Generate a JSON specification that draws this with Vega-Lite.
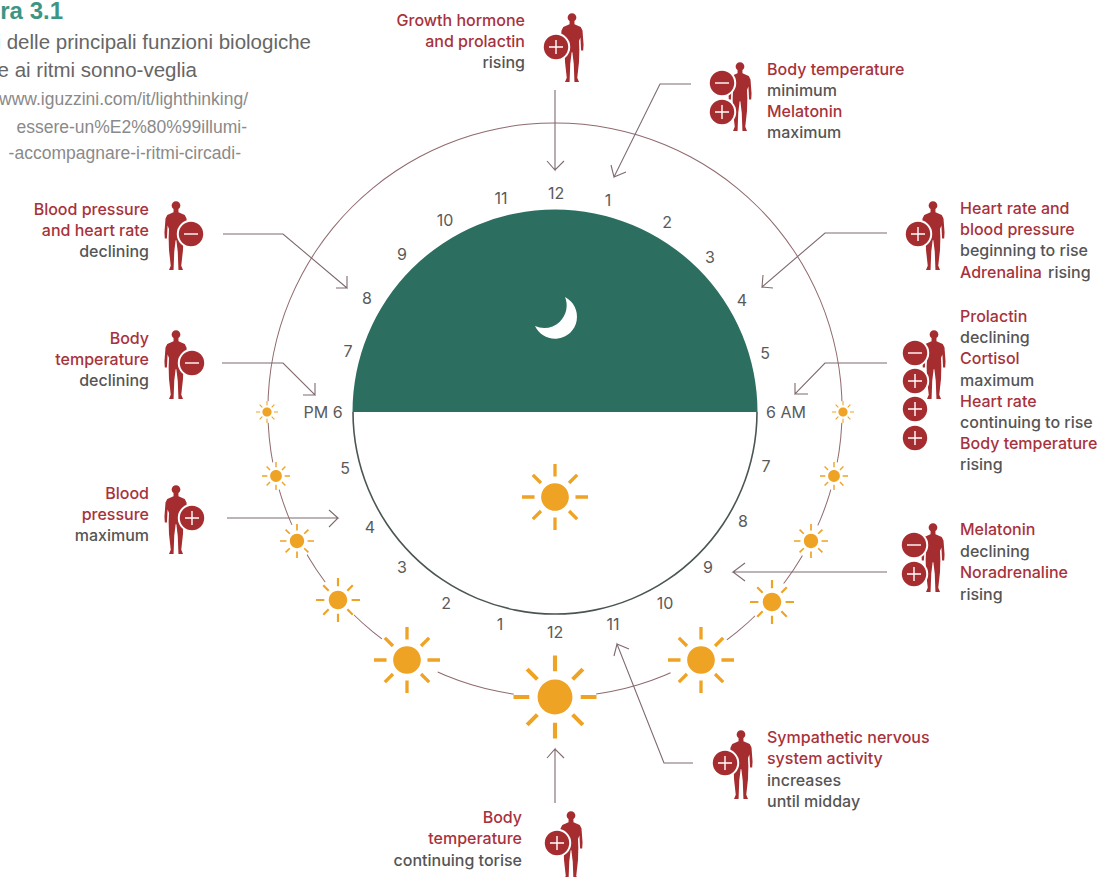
{
"$schema":"https://vega.github.io/schema/vega-lite/v6.json",
"width":1104,"height":877,"padding":0,
"autosize":{"type":"none"},
"background":"#ffffff",
"config":{"view":{"stroke":null}},
"datasets":{
"ringCentre":[{"x":555,"y":410}],
"discCentre":[{"x":555,"y":412}],
"suns":[
{"x":267,"y":412,"level":1},{"x":276,"y":476,"level":2},{"x":297,"y":541,"level":3},{"x":338,"y":600,"level":4},{"x":407,"y":660,"level":5},{"x":555,"y":697,"level":6},{"x":701,"y":660,"level":5},{"x":772,"y":602,"level":4},{"x":811,"y":541,"level":3},{"x":834,"y":476,"level":2},{"x":843,"y":412,"level":1},{"x":555,"y":497,"level":5}],
"moon":[{"x":556,"y":317}],
"arrows":[
{"arrow":"a","seq":1,"x":555,"y":90},{"arrow":"a","seq":2,"x":555,"y":170},{"arrow":"a","seq":3,"x":547,"y":161},{"arrow":"a","seq":4,"x":555,"y":170},{"arrow":"a","seq":5,"x":564,"y":161},
{"arrow":"b","seq":1,"x":691,"y":84},{"arrow":"b","seq":2,"x":660,"y":84},{"arrow":"b","seq":3,"x":614,"y":177},{"arrow":"b","seq":4,"x":611,"y":165},{"arrow":"b","seq":5,"x":614,"y":177},{"arrow":"b","seq":6,"x":626,"y":172},
{"arrow":"c","seq":1,"x":887,"y":233},{"arrow":"c","seq":2,"x":825,"y":233},{"arrow":"c","seq":3,"x":762,"y":287},{"arrow":"c","seq":4,"x":763,"y":275},{"arrow":"c","seq":5,"x":762,"y":287},{"arrow":"c","seq":6,"x":773,"y":288},
{"arrow":"d","seq":1,"x":887,"y":363},{"arrow":"d","seq":2,"x":825,"y":363},{"arrow":"d","seq":3,"x":795,"y":394},{"arrow":"d","seq":4,"x":795,"y":383},{"arrow":"d","seq":5,"x":795,"y":394},{"arrow":"d","seq":6,"x":808,"y":394},
{"arrow":"e","seq":1,"x":887,"y":572},{"arrow":"e","seq":2,"x":733,"y":572},{"arrow":"e","seq":3,"x":745,"y":563},{"arrow":"e","seq":4,"x":733,"y":572},{"arrow":"e","seq":5,"x":745,"y":581},
{"arrow":"f","seq":1,"x":693,"y":763},{"arrow":"f","seq":2,"x":664,"y":763},{"arrow":"f","seq":3,"x":617,"y":644},{"arrow":"f","seq":4,"x":614,"y":656},{"arrow":"f","seq":5,"x":617,"y":644},{"arrow":"f","seq":6,"x":629,"y":649},
{"arrow":"g","seq":1,"x":555,"y":803},{"arrow":"g","seq":2,"x":555,"y":749},{"arrow":"g","seq":3,"x":547,"y":758},{"arrow":"g","seq":4,"x":555,"y":749},{"arrow":"g","seq":5,"x":564,"y":758},
{"arrow":"h","seq":1,"x":223,"y":234},{"arrow":"h","seq":2,"x":283,"y":234},{"arrow":"h","seq":3,"x":347,"y":288},{"arrow":"h","seq":4,"x":347,"y":276},{"arrow":"h","seq":5,"x":347,"y":288},{"arrow":"h","seq":6,"x":336,"y":288},
{"arrow":"i","seq":1,"x":222,"y":363},{"arrow":"i","seq":2,"x":283,"y":363},{"arrow":"i","seq":3,"x":315,"y":395},{"arrow":"i","seq":4,"x":315,"y":383},{"arrow":"i","seq":5,"x":315,"y":395},{"arrow":"i","seq":6,"x":303,"y":395},
{"arrow":"j","seq":1,"x":227,"y":518},{"arrow":"j","seq":2,"x":338,"y":518},{"arrow":"j","seq":3,"x":329,"y":510},{"arrow":"j","seq":4,"x":338,"y":518},{"arrow":"j","seq":5,"x":329,"y":527}],
"people":[{"x":572,"y":48},{"x":740,"y":97},{"x":933,"y":236},{"x":934,"y":365},{"x":933,"y":558},{"x":741,"y":765},{"x":571,"y":846},{"x":176,"y":236},{"x":176,"y":365},{"x":176,"y":520}],
"badges":[
{"x":556,"y":47,"sign":"+"},{"x":722,"y":83,"sign":"-"},{"x":722,"y":112,"sign":"+"},{"x":918,"y":234,"sign":"+"},
{"x":915,"y":353,"sign":"-"},{"x":915,"y":381,"sign":"+"},{"x":915,"y":409,"sign":"+"},{"x":915,"y":438,"sign":"+"},
{"x":914,"y":545,"sign":"-"},{"x":914,"y":574,"sign":"+"},{"x":725,"y":763,"sign":"+"},{"x":557,"y":843,"sign":"+"},
{"x":191,"y":234,"sign":"-"},{"x":192,"y":363,"sign":"-"},{"x":192,"y":518,"sign":"+"}],
"hours":[
{"x":556,"y":193,"t":"12"},{"x":608,"y":200,"t":"1"},{"x":667,"y":222,"t":"2"},{"x":710,"y":257,"t":"3"},{"x":742,"y":300,"t":"4"},{"x":765,"y":353,"t":"5"},{"x":786,"y":412,"t":"6 AM"},{"x":766,"y":466,"t":"7"},{"x":743,"y":521,"t":"8"},{"x":708,"y":567,"t":"9"},{"x":665,"y":603,"t":"10"},{"x":613,"y":624,"t":"11"},{"x":555,"y":632,"t":"12"},{"x":500,"y":624,"t":"1"},{"x":446,"y":603,"t":"2"},{"x":402,"y":567,"t":"3"},{"x":370,"y":527,"t":"4"},{"x":345,"y":468,"t":"5"},{"x":323,"y":412,"t":"PM 6"},{"x":348,"y":351,"t":"7"},{"x":367,"y":298,"t":"8"},{"x":402,"y":254,"t":"9"},{"x":445,"y":220,"t":"10"},{"x":501,"y":198,"t":"11"}],
"labelsRight":[
{"x":525,"y":20,"t":"Growth hormone","role":"name"},{"x":525,"y":41,"t":"and prolactin","role":"name"},{"x":525,"y":62,"t":"rising","role":"state"},
{"x":149,"y":209,"t":"Blood pressure","role":"name"},{"x":149,"y":230,"t":"and heart rate","role":"name"},{"x":149,"y":251,"t":"declining","role":"state"},
{"x":149,"y":338,"t":"Body","role":"name"},{"x":149,"y":359,"t":"temperature","role":"name"},{"x":149,"y":380,"t":"declining","role":"state"},
{"x":149,"y":493,"t":"Blood","role":"name"},{"x":149,"y":514,"t":"pressure","role":"name"},{"x":149,"y":535,"t":"maximum","role":"state"},
{"x":522,"y":817,"t":"Body","role":"name"},{"x":522,"y":838,"t":"temperature","role":"name"},{"x":522,"y":860,"t":"continuing torise","role":"state"}],
"labelsLeft":[
{"x":767,"y":69,"t":"Body temperature","role":"name"},{"x":767,"y":90,"t":"minimum","role":"state"},{"x":767,"y":111,"t":"Melatonin","role":"name"},{"x":767,"y":132,"t":"maximum","role":"state"},
{"x":960,"y":208,"t":"Heart rate and","role":"name"},{"x":960,"y":229,"t":"blood pressure","role":"name"},{"x":960,"y":250,"t":"beginning to rise","role":"state"},{"x":960,"y":272,"t":"Adrenalina","role":"name"},{"x":1048,"y":272,"t":"rising","role":"state"},
{"x":960,"y":316,"t":"Prolactin","role":"name"},{"x":960,"y":337,"t":"declining","role":"state"},{"x":960,"y":358,"t":"Cortisol","role":"name"},{"x":960,"y":380,"t":"maximum","role":"state"},{"x":960,"y":401,"t":"Heart rate","role":"name"},{"x":960,"y":422,"t":"continuing to rise","role":"state"},{"x":960,"y":443,"t":"Body temperature","role":"name"},{"x":960,"y":464,"t":"rising","role":"state"},
{"x":960,"y":529,"t":"Melatonin","role":"name"},{"x":960,"y":551,"t":"declining","role":"state"},{"x":960,"y":572,"t":"Noradrenaline","role":"name"},{"x":960,"y":594,"t":"rising","role":"state"},
{"x":767,"y":737,"t":"Sympathetic nervous","role":"name"},{"x":767,"y":758,"t":"system activity","role":"name"},{"x":767,"y":780,"t":"increases","role":"state"},{"x":767,"y":801,"t":"until midday","role":"state"}],
"heading":[{"x":63,"y":10,"t":"ra 3.1"}],
"subtitle":[{"x":311,"y":41,"t":"i delle principali funzioni biologiche"},{"x":197,"y":69,"t":"e ai ritmi sonno-veglia"}],
"source":[{"x":248,"y":98,"t":"www.iguzzini.com/it/lighthinking/"},{"x":247,"y":126,"t":"essere-un%E2%80%99illumi-"},{"x":241,"y":152,"t":"-accompagnare-i-ritmi-circadi-"}]
},
"encoding":{
"x":{"field":"x","type":"quantitative","axis":null,"scale":{"domain":[0,1104],"nice":false,"zero":false}},
"y":{"field":"y","type":"quantitative","axis":null,"scale":{"domain":[877,0],"nice":false,"zero":false}}
},
"layer":[
{"data":{"name":"ringCentre"},"mark":{"type":"arc","radius":287.6,"radius2":286.6,"theta":0,"theta2":6.2832,"fill":"#8f6a6e"}},
{"data":{"name":"suns"},"mark":{"type":"point","shape":"circle","filled":true,"fill":"#ffffff","opacity":1,"stroke":null},
 "encoding":{"size":{"field":"level","type":"quantitative","legend":null,"scale":{"type":"threshold","domain":[2,3,4,5,6],"range":[484,784,1156,1936,4356,6889]}}}},
{"data":{"name":"suns"},"mark":{"type":"point","filled":true,"fill":"#eea325","opacity":1,"stroke":null,
 "shape":"M0.42 0A0.42 0.42 0 1 1 -0.42 0A0.42 0.42 0 1 1 0.42 0ZM0.62 -0.05L1 -0.05L1 0.05L0.62 0.05ZM-0.62 -0.05L-1 -0.05L-1 0.05L-0.62 0.05ZM-0.05 0.62L-0.05 1L0.05 1L0.05 0.62ZM-0.05 -0.62L-0.05 -1L0.05 -1L0.05 -0.62ZM0.39 0.46L0.636 0.707L0.707 0.636L0.46 0.39ZM-0.39 0.46L-0.636 0.707L-0.707 0.636L-0.46 0.39ZM0.39 -0.46L0.636 -0.707L0.707 -0.636L0.46 -0.39ZM-0.39 -0.46L-0.636 -0.707L-0.707 -0.636L-0.46 -0.39Z"},
 "encoding":{"size":{"field":"level","type":"quantitative","legend":null,"scale":{"type":"threshold","domain":[2,3,4,5,6],"range":[484,784,1156,1936,4356,6889]}}}},
{"data":{"name":"discCentre"},"mark":{"type":"arc","radius":202.5,"radius2":0,"theta":-1.5708,"theta2":1.5708,"fill":"#2c6e60"}},
{"data":{"name":"discCentre"},"mark":{"type":"arc","radius":202.8,"radius2":201.2,"theta":1.5708,"theta2":4.7124,"fill":"#4b5654"}},
{"data":{"name":"moon"},"mark":{"type":"point","filled":true,"fill":"#ffffff","opacity":1,"stroke":null,"size":1764,
 "shape":"M0.43 -0.95A1.05 1.05 0 1 1 -1 0.43A1.07 1.07 0 0 0 0.43 -0.95Z"}},
{"data":{"name":"arrows"},"mark":{"type":"line","stroke":"#7f6a6d","strokeWidth":1.1,"interpolate":"linear"},
 "encoding":{"detail":{"field":"arrow","type":"nominal"},"order":{"field":"seq","type":"quantitative"}}},
{"data":{"name":"people"},"mark":{"type":"point","filled":true,"fill":"#a52d30","opacity":1,"stroke":null,"size":4900,
 "shape":"M0.125 -0.87A0.125 0.125 0 1 1 -0.125 -0.87A0.125 0.125 0 1 1 0.125 -0.87ZM-0.07 -0.78L0.07 -0.78L0.07 -0.68L0.25 -0.6L0.3 -0.5L0.33 -0.1L0.32 0.07L0.26 0.07L0.24 -0.3L0.2 -0.2L0.21 0.05L0.2 0.4L0.15 0.85L0.2 0.97L0.07 0.97L0.05 0.45L0.01 0.12L-0.01 0.12L-0.05 0.45L-0.07 0.97L-0.2 0.97L-0.15 0.85L-0.2 0.4L-0.21 0.05L-0.2 -0.2L-0.24 -0.3L-0.26 0.07L-0.32 0.07L-0.33 -0.1L-0.3 -0.5L-0.25 -0.6L-0.07 -0.68Z"}},
{"data":{"name":"badges"},"mark":{"type":"point","shape":"circle","filled":true,"fill":"#a52d30","opacity":1,"stroke":"#ffffff","strokeWidth":2,"size":700}},
{"data":{"name":"badges"},"mark":{"type":"point","filled":false,"opacity":1,"stroke":"#ffffff","strokeWidth":1.4,"size":196},
 "encoding":{"shape":{"field":"sign","type":"nominal","legend":null,"scale":{"domain":["+","-"],"range":["M-1 0L1 0M0 -1L0 1","M-1 0L1 0"]}}}},
{"data":{"name":"hours"},"mark":{"type":"text","align":"center","baseline":"middle","dy":1,"font":"Inter","fontSize":16,"fill":"#5a5a5a"},"encoding":{"text":{"field":"t"}}},
{"data":{"name":"labelsRight"},"mark":{"type":"text","align":"right","baseline":"middle","dy":1,"font":"Inter","fontSize":16,"fontWeight":500},
 "encoding":{"text":{"field":"t"},"color":{"field":"role","type":"nominal","legend":null,"scale":{"domain":["name","state"],"range":["#a8323c","#555555"]}}}},
{"data":{"name":"labelsLeft"},"mark":{"type":"text","align":"left","baseline":"middle","dy":1,"font":"Inter","fontSize":16,"fontWeight":500},
 "encoding":{"text":{"field":"t"},"color":{"field":"role","type":"nominal","legend":null,"scale":{"domain":["name","state"],"range":["#a8323c","#555555"]}}}},
{"data":{"name":"heading"},"mark":{"type":"text","align":"right","baseline":"middle","dy":2,"font":"Liberation Sans","fontSize":24,"fontWeight":"bold","fill":"#3d9684"},"encoding":{"text":{"field":"t"}}},
{"data":{"name":"subtitle"},"mark":{"type":"text","align":"right","baseline":"middle","dy":2,"font":"Liberation Sans","fontSize":20.5,"fill":"#666666"},"encoding":{"text":{"field":"t"}}},
{"data":{"name":"source"},"mark":{"type":"text","align":"right","baseline":"middle","dy":2,"font":"Liberation Sans","fontSize":17.5,"fill":"#8a8a8a"},"encoding":{"text":{"field":"t"}}}
]
}
